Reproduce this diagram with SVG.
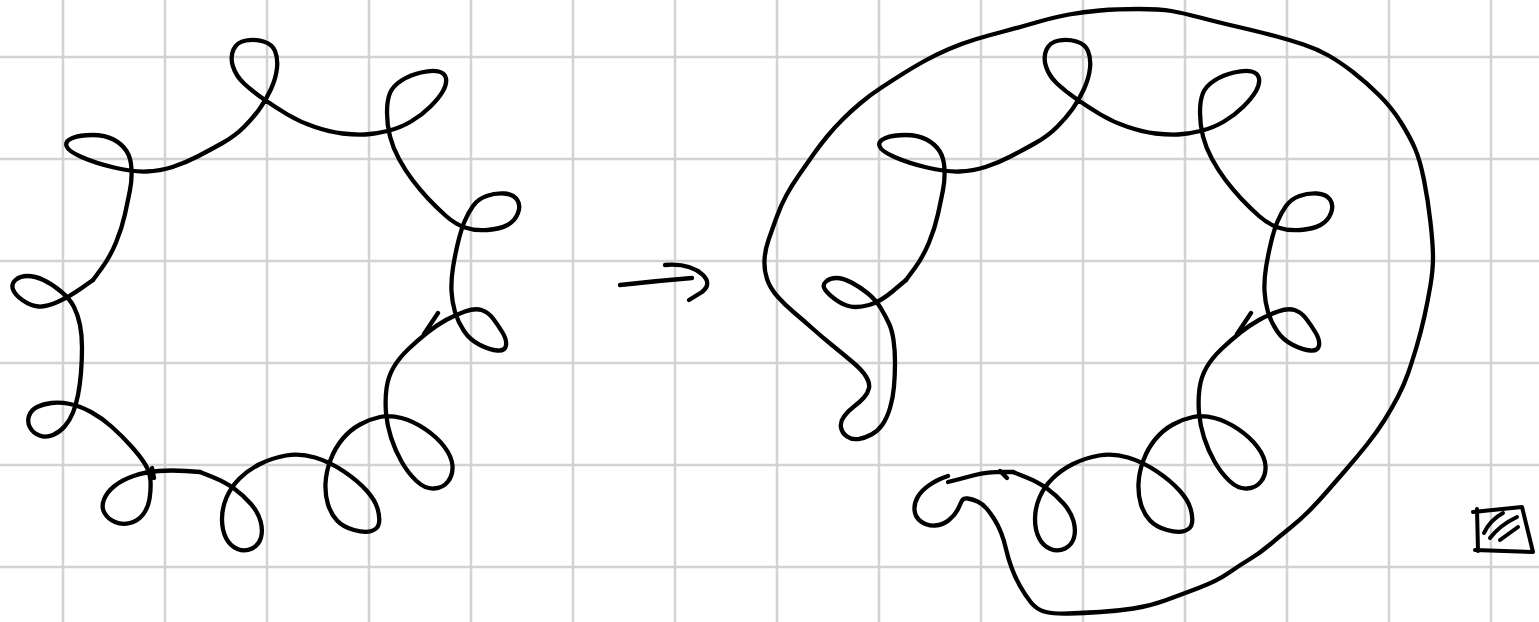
<svg xmlns="http://www.w3.org/2000/svg" xmlns:xlink="http://www.w3.org/1999/xlink" width="1539" height="622" viewBox="0 0 1539 622">
<style>
.grid line{stroke:#d2d2d2;stroke-width:2.5}
.ink{fill:none;stroke:#000;stroke-width:4.3;stroke-linecap:round;stroke-linejoin:round}
</style>
<defs>
<path id="coil" d="M93 280 L101.5 268.5 Q110 257 116 242.5 Q122 228 125 214 Q128 200 130 190 Q132 180 131.5 169 Q131 158 126.5 151 Q122 144 113.5 139.5 Q105 135 92.5 135 Q80 135 72.5 138 Q65 141 66.5 146 Q68 151 81.5 157 Q95 163 114 167.5 Q133 172 146.5 171.5 Q160 171 172.5 167 Q185 163 197.5 156.5 Q210 150 222.5 143 Q235 136 244 127 Q253 118 259.5 109 Q266 100 271 89 Q276 78 277 68 Q278 58 275 51 Q272 44 263.5 41.5 Q255 39 246 40.5 Q237 42 233.5 49.5 Q230 57 233 66.5 Q236 76 244 83.5 Q252 91 263.5 99 Q275 107 287.5 114.5 Q300 122 315 127 Q330 132 342.5 133.5 Q355 135 365 134.5 Q375 134 387.5 131 Q400 128 411 121.5 Q422 115 430.5 106.5 Q439 98 443 91 Q447 84 446 78.5 Q445 73 438.5 71.5 Q432 70 421 72.5 Q410 75 401.5 80.5 Q393 86 390 93 Q387 100 387 112.5 Q387 125 390 136.5 Q393 148 399 159 Q405 170 412.5 180 Q420 190 428.5 199 Q437 208 446 216 Q455 224 465 227.5 Q475 231 487.5 230 Q500 229 507.5 225 Q515 221 518 213 Q521 205 517 199.5 Q513 194 504 193.5 Q495 193 486.5 196 Q478 199 473 206 Q468 213 464.5 221.5 Q461 230 458 242.5 Q455 255 453 267.5 Q451 280 451.5 291 Q452 302 455 312 Q458 322 464 331 Q470 340 480 345 Q490 350 497.5 350.5 Q505 351 506 345.5 Q507 340 502.5 332.5 Q498 325 493 318.5 Q488 312 481.5 310 Q475 308 465 311.5 Q455 315 446 320 Q437 325 427.5 332.5 Q418 340 408.5 349 Q399 358 393.5 367.5 Q388 377 386.5 388.5 Q385 400 386 412.5 Q387 425 391 437.5 Q395 450 401.5 461.5 Q408 473 416.5 481 Q425 489 434 488.5 Q443 488 448 481.5 Q453 475 452.5 466 Q452 457 444.5 447 Q437 437 425 429 Q413 421 401.5 418 Q390 415 380 417 Q370 419 360 424.5 Q350 430 342.5 439 Q335 448 330.5 460 Q326 472 325.5 483.5 Q325 495 328 504.5 Q331 514 337 520.5 Q343 527 354 530 Q365 533 371.5 531 Q378 529 379 523 Q380 517 377.5 508.5 Q375 500 366.5 490.5 Q358 481 344 471.5 Q330 462 315 457.5 Q300 453 286 455.5 Q272 458 260 464 Q248 470 239.5 478.5 Q231 487 226.5 497.5 Q222 508 222 519 Q222 530 226 538 Q230 546 237.5 549 Q245 552 252 548.5 Q259 545 261 537.5 Q263 530 260.5 521 Q258 512 250.5 503.5 Q243 495 234 488.5 Q225 482 212.5 477 L200 472 M438 313 L424 334"/>
</defs>
<rect width="1539" height="622" fill="#fff"/>
<g id="grid" class="grid">
<line x1="63" y1="0" x2="63" y2="622"/><line x1="165" y1="0" x2="165" y2="622"/><line x1="267" y1="0" x2="267" y2="622"/><line x1="369" y1="0" x2="369" y2="622"/><line x1="471" y1="0" x2="471" y2="622"/><line x1="573" y1="0" x2="573" y2="622"/><line x1="675" y1="0" x2="675" y2="622"/><line x1="777" y1="0" x2="777" y2="622"/><line x1="879" y1="0" x2="879" y2="622"/><line x1="981" y1="0" x2="981" y2="622"/><line x1="1083" y1="0" x2="1083" y2="622"/><line x1="1185" y1="0" x2="1185" y2="622"/><line x1="1287" y1="0" x2="1287" y2="622"/><line x1="1389" y1="0" x2="1389" y2="622"/><line x1="1491" y1="0" x2="1491" y2="622"/>
<line x1="0" y1="57" x2="1539" y2="57"/><line x1="0" y1="159" x2="1539" y2="159"/><line x1="0" y1="261" x2="1539" y2="261"/><line x1="0" y1="363" x2="1539" y2="363"/><line x1="0" y1="465" x2="1539" y2="465"/><line x1="0" y1="567" x2="1539" y2="567"/>
</g>
<g id="left-coil" class="ink">
<use href="#coil" xlink:href="#coil"/>
<path d="M200 472 L186 471 Q172 470 158.5 471 Q145 472 133.5 476 Q122 480 114.5 486 Q107 492 104 499.5 Q101 507 104.5 513 Q108 519 115 522 Q122 525 130 523 Q138 521 143 514.5 Q148 508 149.5 499 Q151 490 150.5 481 Q150 472 145 464 Q140 456 131 446 Q122 436 112 427 Q102 418 91 412 Q80 406 70 404 Q60 402 51.5 403 Q43 404 37 407 Q31 410 29 416 Q27 422 30 427.5 Q33 433 39.5 435.5 Q46 438 53 435 Q60 432 65 426 Q70 420 73 412.5 Q76 405 78 395 Q80 385 81 372.5 Q82 360 82 347.5 Q82 335 80 325 Q78 315 74 307 Q70 299 61 291.5 Q52 284 43.5 280 Q35 276 27.5 276 Q20 276 15.5 280 Q11 284 13 289.5 Q15 295 23 300.5 Q31 306 38.5 306.5 Q46 307 57.5 302 Q69 297 81 288.5 L93 280 M152 468 L154 478"/>
</g>
<g id="arrow" class="ink">
<path d="M620 285 Q655 281 692 278"/>
<path d="M665 265 Q690 263 703 275 Q712 284 702 292 L689 300"/>
</g>
<g id="right-coil" class="ink">
<use href="#coil" xlink:href="#coil" x="813"/>
<path d="M1013 472 Q990 471 975 475 Q960 479 948 482 M1000 471 L1007 478"/>
<path d="M948 476 L942.5 478 Q937 480 929.5 485 Q922 490 918 496.5 Q914 503 914.5 510 Q915 517 921 521.5 Q927 526 935 525.5 Q943 525 949 520 Q955 515 957.5 510 Q960 505 961.5 501.5 Q963 498 967.5 498.5 Q972 499 977.5 501.5 Q983 504 987 509 Q991 514 994.5 519.5 Q998 525 1001 532.5 Q1004 540 1006 549 Q1008 558 1011.5 567.5 Q1015 577 1020 586 Q1025 595 1031 602.5 Q1037 610 1046 612 Q1055 614 1069 613.5 Q1083 613 1100 612 Q1117 611 1133.5 608.5 Q1150 606 1165 600.5 Q1180 595 1198.5 588 Q1217 581 1228.5 573 Q1240 565 1250 559 Q1260 553 1270 544.5 Q1280 536 1290 528 Q1300 520 1308.5 511.5 Q1317 503 1327 491.5 Q1337 480 1347 468.5 Q1357 457 1367 444.5 Q1377 432 1384.5 420 Q1392 408 1398 396.5 Q1404 385 1408 373.5 Q1412 362 1416.5 347 Q1421 332 1424.5 316 Q1428 300 1430.5 285 Q1433 270 1433 257.5 Q1433 245 1430.5 222.5 Q1428 200 1424 180 Q1420 160 1415 148.5 Q1410 137 1401 122.5 Q1392 108 1379.5 95.5 Q1367 83 1353.5 72.5 Q1340 62 1328.5 55.5 Q1317 49 1303.5 44.5 Q1290 40 1275 36 Q1260 32 1238.5 27 Q1217 22 1200 17.5 Q1183 13 1171.5 11 Q1160 9 1138.5 9 Q1117 9 1100 10.5 Q1083 12 1069 14.5 Q1055 17 1036 22.5 Q1017 28 1003.5 31.5 Q990 35 976.5 39 Q963 43 949 49 Q935 55 923.5 61.5 Q912 68 902.5 74 Q893 80 881.5 87.5 Q870 95 860 103.5 Q850 112 842.5 119.5 Q835 127 827.5 136 Q820 145 813 155 Q806 165 799 175 Q792 185 786.5 195 Q781 205 776.5 217.5 Q772 230 768.5 240 Q765 250 764.5 260 Q764 270 767 279 Q770 288 777.5 296.5 Q785 305 794 312.5 Q803 320 812.5 328.5 Q822 337 832.5 345.5 Q843 354 852.5 362 Q862 370 866 376.5 Q870 383 869 388 Q868 393 864 397.5 Q860 402 854 406.5 Q848 411 844 416.5 Q840 422 841 427.5 Q842 433 847 436.5 Q852 440 858.5 439 Q865 438 871.5 434.5 Q878 431 882.5 424.5 Q887 418 890 408 Q893 398 894 386.5 Q895 375 895 362.5 Q895 350 893.5 340 Q892 330 889 323.5 Q886 317 881 308.5 Q876 300 868 293.5 Q860 287 851.5 282.5 Q843 278 836.5 278 Q830 278 826 281.5 Q822 285 825 289.5 Q828 294 835.5 299.5 Q843 305 850.5 306.5 Q858 308 869 305 Q880 302 893 291 L906 280"/>
</g>
<g id="icon" class="ink" style="stroke-width:4">
<path d="M1473 512 L1522 507 L1533 552 L1475 550"/>
<path d="M1477 509 L1478 551"/>
<path d="M1484 533 Q1490 520 1503 513"/>
<path d="M1490 538 Q1500 525 1517 517"/>
<path d="M1500 540 L1518 527"/>
</g>
</svg>
